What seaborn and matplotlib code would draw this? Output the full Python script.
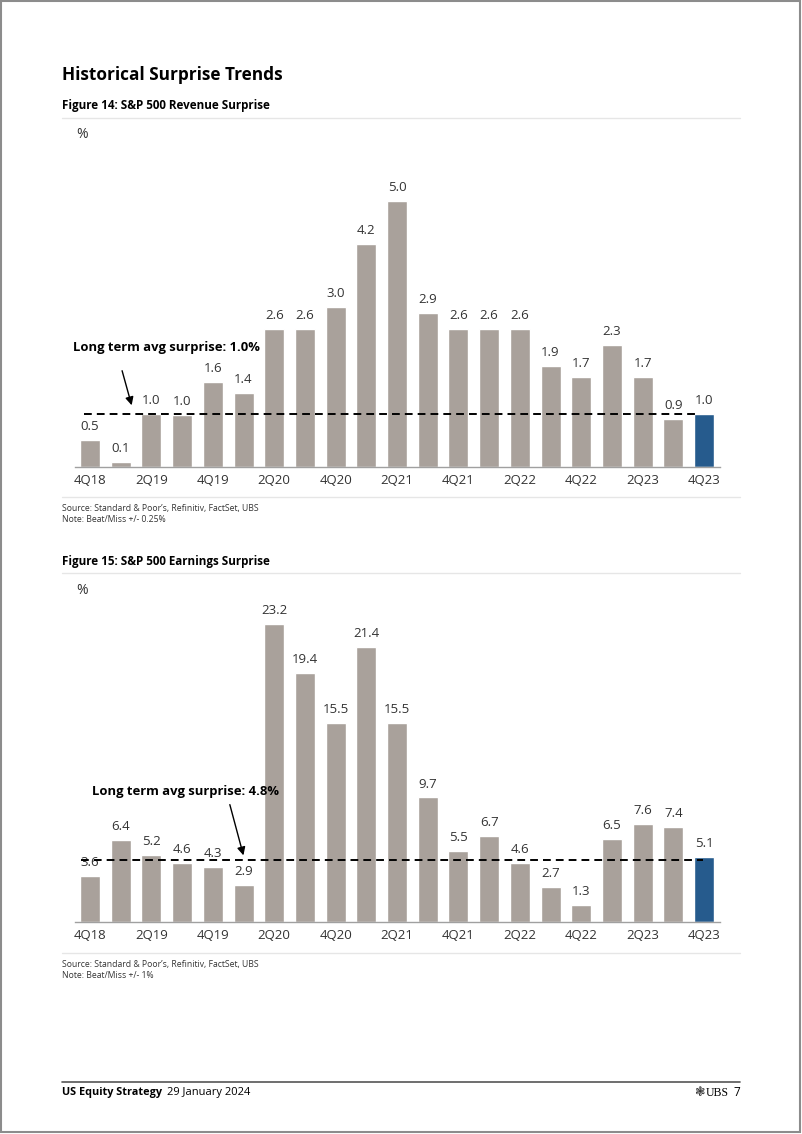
import matplotlib
matplotlib.use("Agg")
import matplotlib.pyplot as plt
import seaborn as sns
import numpy as np
from matplotlib.patches import Rectangle
from matplotlib.lines import Line2D

quarters = ["4Q18", "1Q19", "2Q19", "3Q19", "4Q19", "1Q20", "2Q20", "3Q20", "4Q20",
            "1Q21", "2Q21", "3Q21", "4Q21", "1Q22", "2Q22", "3Q22", "4Q22", "1Q23",
            "2Q23", "3Q23", "4Q23"]
revenue = [0.5, 0.1, 1.0, 0.98, 1.6, 1.4, 2.6, 2.6, 3.0, 4.2, 5.0, 2.9, 2.6, 2.6, 2.6,
           1.9, 1.7, 2.3, 1.7, 0.9, 1.0]
earnings = [3.6, 6.4, 5.2, 4.6, 4.3, 2.9, 23.2, 19.4, 15.5, 21.4, 15.5, 9.7, 5.5, 6.7,
            4.6, 2.7, 1.3, 6.5, 7.6, 7.4, 5.1]
revenue_avg = 1.0
earnings_avg = 4.8
tick_labels = [q if i % 2 == 0 else "" for i, q in enumerate(quarters)]

GRAY = "#A9A19B"
BLUE = "#265B8D"
TXT = "#333333"

sns.set_theme(style="white")
plt.rcParams["font.family"] = ["Open Sans", "DejaVu Sans"]

W, H = 802, 1134
fig = plt.figure(figsize=(W / 100, H / 100), dpi=100)
fig.patch.set_facecolor("white")


def fx(px):
    return px / W


def fy(py):
    return 1 - py / H


def add_ax(left, top, right, bottom):
    return fig.add_axes([fx(left), fy(bottom), fx(right) - fx(left), (bottom - top) / H])


def hline(y, x0, x1, color, lw=1.0):
    fig.add_artist(Line2D([fx(x0), fx(x1)], [fy(y), fy(y)], color=color, lw=lw,
                          transform=fig.transFigure))


def draw_chart(ax, values, avg, ytop, fmt="{:.1f}", dash_start=-0.2, dash_end=19.85):
    palette = [GRAY] * (len(quarters) - 1) + [BLUE]
    sns.barplot(x=quarters, y=values, hue=quarters, palette=palette, legend=False,
                width=0.65, saturation=1, ax=ax)
    ax.set_xlim(-0.49, 20.52)
    ax.set_ylim(0, ytop)
    for i, v in enumerate(values):
        ax.annotate(fmt.format(round(v + 1e-9, 1)), (i, v), xytext=(0, 5),
                    textcoords="offset points", ha="center", va="bottom",
                    fontsize=9.5, color=TXT)
    ax.plot([dash_start, dash_end], [avg, avg], color="black", lw=1.4,
            linestyle=(0, (4, 2.6)), zorder=5)
    ax.set_xticks(range(len(quarters)))
    ax.set_xticklabels(tick_labels, fontsize=9.5, color=TXT)
    ax.tick_params(axis="x", length=0, pad=5)
    ax.set_yticks([])
    ax.set_xlabel("")
    ax.set_ylabel("")
    for s in ["top", "right", "left"]:
        ax.spines[s].set_visible(False)
    ax.spines["bottom"].set_color("#A0A0A0")
    ax.spines["bottom"].set_linewidth(1.0)
    ax.patch.set_alpha(0)


# Page frame
fig.add_artist(Rectangle((fx(0.8), fy(1132)), fx(799.5) - fx(0.8), fy(0.8) - fy(1132),
                         fill=False, edgecolor="#8C8C8C", lw=1.5, transform=fig.transFigure))

# Title
fig.text(fx(62), fy(75), "Historical Surprise Trends", fontsize=12.4, fontweight="bold",
         color="black", va="center", ha="left")

# Figure 14
fig.text(fx(62), fy(106), "Figure 14: S&P 500 Revenue Surprise", fontsize=8.4,
         fontweight="bold", color="black", va="center", ha="left")
hline(118, 62, 740, "#E6E6E6")
fig.text(fx(76), fy(135), "%", fontsize=10, color=TXT, va="center", ha="left")

ax1 = add_ax(75, 140, 720, 467)
draw_chart(ax1, revenue, revenue_avg, (467 - 140) / 53.2, dash_start=-0.19, dash_end=19.8)
fig.text(fx(73), fy(347), "Long term avg surprise: 1.0%", fontsize=9.4, fontweight="bold",
         color="black", va="center", ha="left")
ax1.annotate("", xy=(1.38, 1.11), xytext=(1.02, 1.86),
             arrowprops=dict(arrowstyle="-|>", color="black", lw=1.0, mutation_scale=12))

hline(497, 62, 740, "#E6E6E6")
fig.text(fx(62), fy(508), "Source: Standard & Poor\u2019s, Refinitiv, FactSet, UBS",
         fontsize=6.2, color=TXT, va="center", ha="left")
fig.text(fx(62), fy(520), "Note: Beat/Miss +/- 0.25%", fontsize=6.2, color=TXT,
         va="center", ha="left")

# Figure 15
fig.text(fx(62), fy(562), "Figure 15: S&P 500 Earnings Surprise", fontsize=8.4,
         fontweight="bold", color="black", va="center", ha="left")
hline(573, 62, 740, "#E6E6E6")
fig.text(fx(76), fy(590), "%", fontsize=10, color=TXT, va="center", ha="left")

ax2 = add_ax(75, 595, 720, 922)
draw_chart(ax2, earnings, earnings_avg, (922 - 595) / 12.84, dash_start=-0.28, dash_end=19.97)
fig.text(fx(92), fy(792), "Long term avg surprise: 4.8%", fontsize=9.4, fontweight="bold",
         color="black", va="center", ha="left")
ax2.annotate("", xy=(5.02, 4.98), xytext=(4.53, 9.35),
             arrowprops=dict(arrowstyle="-|>", color="black", lw=1.0, mutation_scale=12))

hline(953, 62, 740, "#E6E6E6")
fig.text(fx(62), fy(964), "Source: Standard & Poor\u2019s, Refinitiv, FactSet, UBS",
         fontsize=6.2, color=TXT, va="center", ha="left")
fig.text(fx(62), fy(976), "Note: Beat/Miss +/- 1%", fontsize=6.2, color=TXT,
         va="center", ha="left")

# Footer
hline(1082, 62, 740, "#555555", lw=1.2)
fig.text(fx(62), fy(1093), "US Equity Strategy", fontsize=7.8, fontweight="bold",
         color="black", va="center", ha="left")
fig.text(fx(167), fy(1093), "29 January 2024", fontsize=8, color="black",
         va="center", ha="left")
fig.text(fx(740), fy(1093), "7", fontsize=8.5, color="black", va="center", ha="right")
fig.text(fx(729), fy(1093), "UBS", fontsize=8.5, color="black", va="center", ha="right",
         family=["Liberation Serif", "DejaVu Serif"])
fig.text(fx(706), fy(1093), "\u2743", fontsize=9, color="#333333", va="center", ha="right",
         family=["DejaVu Sans"])

fig.savefig("out.png", dpi=100, facecolor="white")
